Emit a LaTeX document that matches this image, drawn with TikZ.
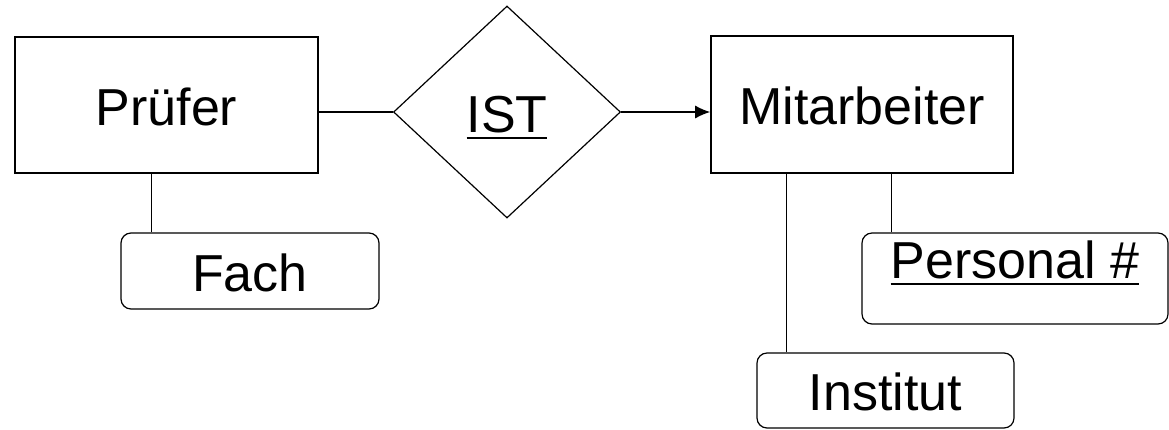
\documentclass[tikz,border=0pt]{standalone}
\usepackage{fontspec}
\setmainfont{Liberation Sans}
\usetikzlibrary{shapes.geometric,arrows.meta}
\newcommand\myul[1]{\setbox0\hbox{#1}\rlap{\rule[-6.5pt]{\wd0}{2pt}}\box0}
\tikzset{
  entity/.style={draw,line width=1.6pt,rectangle,inner sep=0pt},
  attr/.style={draw,line width=1.2pt,rectangle,rounded corners=10pt,inner sep=0pt},
  rel/.style={draw,line width=1.2pt,diamond,inner sep=0pt},
  conn/.style={line width=1.2pt},
  every node/.style={font=\fontsize{52}{60}\selectfont,text height=40pt,text depth=0pt}
}
\begin{document}
\begin{tikzpicture}
\useasboundingbox (0pt,0pt) rectangle (1169pt,-429pt);
\node[entity,minimum width=303pt,minimum height=136pt] (pr) at (166.5pt,-105pt) {Prüfer};
\node[rel,minimum width=227pt,minimum height=212pt] (ist) at (507pt,-112pt) {\myul{IST}};
\node[entity,minimum width=302pt,minimum height=137pt] (mit) at (862pt,-104.5pt) {Mitarbeiter};
\node[attr,minimum width=258pt,minimum height=76pt] (fach) at (250pt,-271pt) {Fach};
\node[attr,minimum width=306pt,minimum height=91pt,text height=38pt,text depth=38pt] (pers) at (1015pt,-278.5pt) {\myul{Personal \#}};
\node[attr,minimum width=257pt,minimum height=75pt] (inst) at (885.5pt,-390.5pt) {Institut};
\draw[conn] (ist.west) -- (ist.west -| pr.east);
\draw[conn,-{Latex[length=15pt,width=13pt]}] (ist.east) -- (ist.east -| mit.west);
\draw[conn] ([xshift=31pt]fach.north west) -- ([xshift=31pt]fach.north west |- pr.south);
\draw[conn] ([xshift=30pt]pers.north west) -- ([xshift=30pt]pers.north west |- mit.south);
\draw[conn] ([xshift=30pt]inst.north west) -- ([xshift=30pt]inst.north west |- mit.south);
\end{tikzpicture}
\end{document}
